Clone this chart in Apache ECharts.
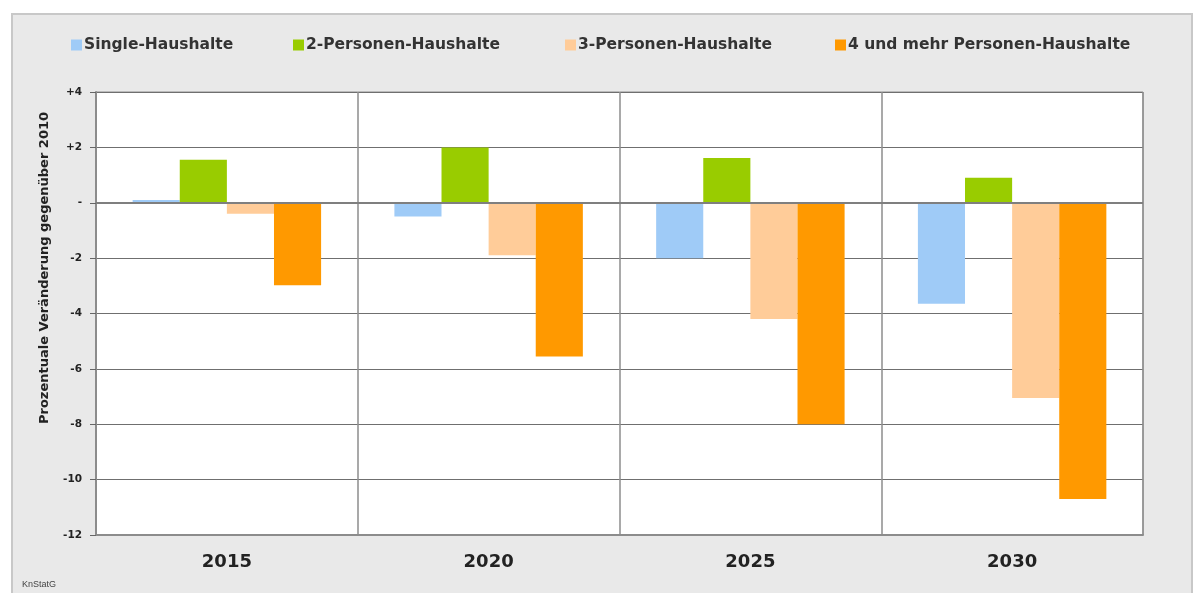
<!DOCTYPE html>
<html>
<head>
<meta charset="utf-8">
<script src="https://cdn.jsdelivr.net/npm/echarts@6/dist/echarts.min.js"></script>
<style>
  html, body { margin: 0; padding: 0; background: #fff; }
  #chart { width: 1203px; height: 593px; }
</style>
</head>
<body>
<div id="chart"></div>
<script>
// Kategorien (Prognosejahre)
const years = ['2015', '2020', '2025', '2030']
const seriesNames = ['Single-Haushalte', '2-Personen-Haushalte', '3-Personen-Haushalte', '4 und mehr Personen-Haushalte']
// Veraenderung gegenueber 2010 in Prozent
const single = [0.1, -0.5, -2.0, -3.65]
const zweiPers = [1.55, 2.0, 1.62, 0.9]
const dreiPers = [-0.4, -1.9, -4.2, -7.05]
const vierPlus = [-2.98, -5.55, -8.0, -10.7]
const colorArray = ['#9fcbf7', '#99cc00', '#ffcc99', '#ff9900']
const legendLeft = [66, 288, 560, 830]

const chart = echarts.init(document.getElementById('chart'))
const allData = [single, zweiPers, dreiPers, vierPlus]
const font = '"DejaVu Sans", Verdana, sans-serif'

const series = allData.map((d, i) => ({
  name: seriesNames[i],
  type: 'bar',
  data: d,
  barGap: '0%',
  barCategoryGap: '28%',
  itemStyle: { color: colorArray[i] },
  animation: false
}))
// Nulllinie
series[0].markLine = {
  silent: true,
  symbol: 'none',
  label: { show: false },
  lineStyle: { color: '#7f7f7f', width: 2, type: 'solid' },
  data: [{ yAxis: 0 }]
}

// eine Legende pro Serie, damit die Abstaende stimmen
const legends = seriesNames.map((name, i) => ({
  data: [name],
  left: legendLeft[i],
  top: 32,
  icon: 'rect',
  itemWidth: 11,
  itemHeight: 11,
  itemGap: 0,
  textStyle: { fontFamily: font, fontWeight: 'bold', fontSize: 15.5, color: '#333', padding: [0, 0, 0, -3] }
}))

chart.setOption({
  backgroundColor: '#ffffff',
  graphic: [
    {
      type: 'rect',
      z: -10,
      shape: { x: 12, y: 14, width: 1180, height: 590 },
      style: { fill: '#e9e9e9', stroke: '#c8c8c8', lineWidth: 2 }
    },
    {
      type: 'text',
      x: 45,
      y: 268,
      rotation: Math.PI / 2,
      style: {
        text: 'Prozentuale Veränderung gegenüber 2010',
        font: 'bold 13px "DejaVu Sans"',
        fill: '#222',
        align: 'center',
        verticalAlign: 'middle'
      }
    },
    {
      type: 'text',
      left: 22,
      top: 580,
      style: { text: 'KnStatG', font: '9px Arial', fill: '#444' }
    }
  ],
  legend: legends,
  grid: {
    left: 96,
    right: 60,
    top: 92,
    bottom: 58,
    show: true,
    backgroundColor: '#ffffff',
    borderColor: '#8c8c8c',
    borderWidth: 1
  },
  xAxis: {
    type: 'category',
    data: years,
    axisLine: { onZero: false, lineStyle: { color: '#8c8c8c', width: 2 } },
    axisTick: { show: false },
    splitLine: { show: true, lineStyle: { color: '#8c8c8c', width: 1.5 } },
    axisLabel: { margin: 18, fontFamily: font, fontWeight: 'bold', fontSize: 18, color: '#222' }
  },
  yAxis: {
    type: 'value',
    min: -12,
    max: 4,
    interval: 2,
    axisLine: { show: true, lineStyle: { color: '#8c8c8c', width: 2 } },
    axisTick: { show: true, length: 6, lineStyle: { color: '#666' } },
    splitLine: { lineStyle: { color: '#6f6f6f', width: 1 } },
    axisLabel: {
      margin: 14,
      fontFamily: font,
      fontWeight: 'bold',
      fontSize: 10.5,
      color: '#222',
      formatter: function(v) {
        if (v === 0) return '-'
        return v > 0 ? '+' + v : String(v)
      }
    }
  },
  series: series
})
</script>
</body>
</html>
